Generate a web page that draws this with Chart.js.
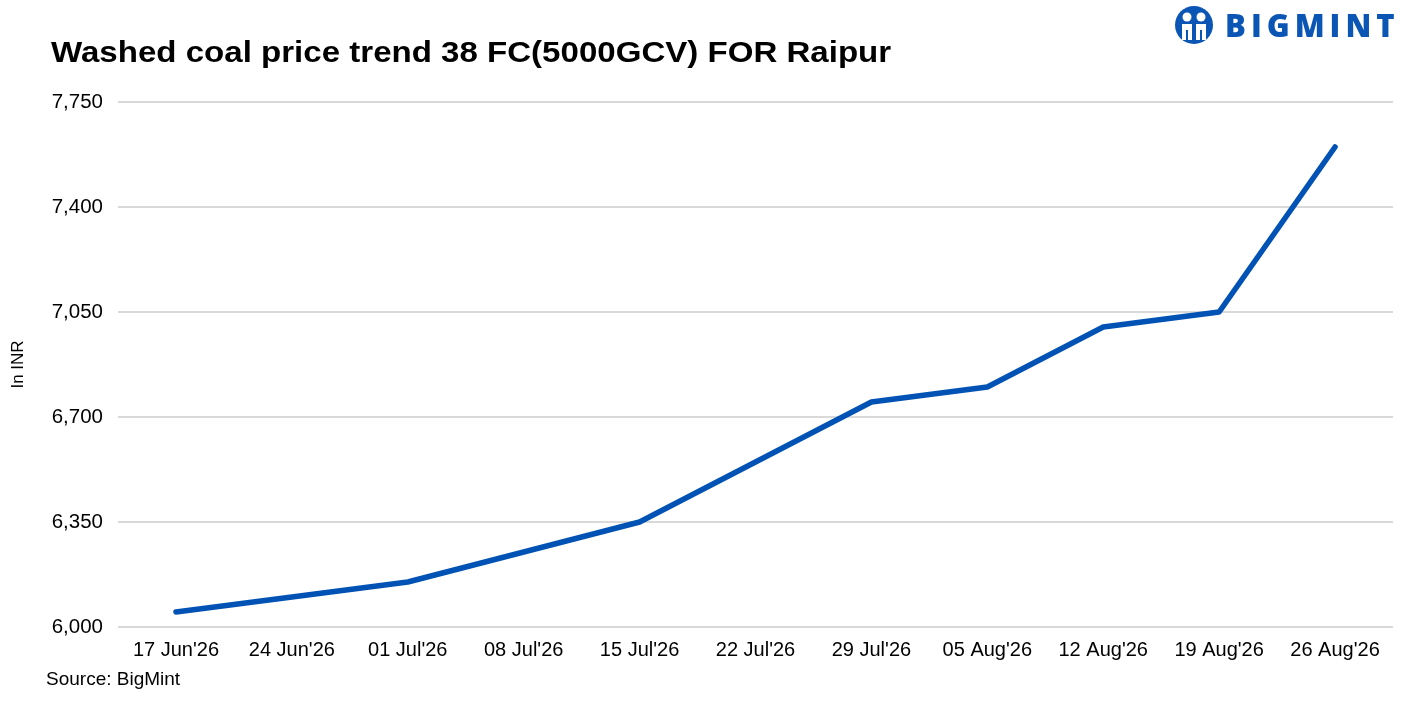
<!DOCTYPE html>
<html>
<head>
<meta charset="utf-8">
<script src="https://cdn.jsdelivr.net/npm/chart.js@4.4.1/dist/chart.umd.min.js"></script>
<style>
  html, body { margin: 0; padding: 0; background: #fff; }
  #wrap { position: relative; width: 1417px; height: 709px; overflow: hidden; }
  #chart { position: absolute; left: 0; top: 0; }
  #title { position: absolute; left: 51px; top: 36px; font: bold 29px "Liberation Sans", Arial, sans-serif; color: #000; transform: scaleX(1.14); transform-origin: left top; white-space: nowrap; }
  #source { position: absolute; left: 46px; top: 668px; font: 19px "Liberation Sans", Arial, sans-serif; color: #000; }
  #logo { position: absolute; left: 1173px; top: 4px; display: flex; align-items: center; }
  #logo span { font: 900 31px "Open Sans", "Liberation Sans", sans-serif; color: #0b56b5; letter-spacing: 5px; margin-left: 10px; }
</style>
</head>
<body>
<div id="wrap">
  <canvas id="chart" width="1417" height="709"></canvas>
  <div id="title">Washed coal price trend 38 FC(5000GCV) FOR Raipur</div>
  <div id="source">Source: BigMint</div>
  <div id="logo">
    <svg width="42" height="42" viewBox="0 0 42 42">
      <circle cx="21" cy="21" r="19" fill="#0b56b5"/>
      <circle cx="14" cy="13" r="4.5" fill="#fff"/>
      <circle cx="28" cy="13" r="4.5" fill="#fff"/>
      <path d="M9 20 h10 v16 h-4 v-10 h-2 v10 h-4z" fill="#fff"/>
      <path d="M23 20 h10 v16 h-4 v-10 h-2 v10 h-4z" fill="#fff"/>
    </svg>
    <span>BIGMINT</span>
  </div>
</div>
<script>
// dati del grafico
const weeks = ["17 Jun'26", "24 Jun'26", "01 Jul'26", "08 Jul'26", "15 Jul'26", "22 Jul'26",
               "29 Jul'26", "05 Aug'26", "12 Aug'26", "19 Aug'26", "26 Aug'26"];
const prices = [6050, 6100, 6150, 6250, 6350, 6550, 6750, 6800, 7000, 7050, 7600];
const yMin = 6000;
const yMax = 7750;
const yStep = 350;

const ctx = document.getElementById('chart').getContext('2d');
new Chart(ctx, {
    type: 'line',
    data: {
        labels: weeks,
        datasets: [{
            label: 'Price',
            data: prices,
            borderColor: '#0052b4',
            borderWidth: 5.5,
            pointRadius: 0,
            tension: 0,
            fill: false,
            borderCapStyle: 'round',
            borderJoinStyle: 'round'
        }]
    },
    options: {
        responsive: false,
        animation: false,
        layout: { padding: { top: 102, right: 24, left: 0, bottom: 0 } },
        plugins: { legend: { display: false }, tooltip: { enabled: false } },
        scales: {
            x: {
                offset: true,
                grid: { display: false, drawTicks: false },
                border: { display: false },
                ticks: {
                    color: '#000',
                    font: { family: 'Liberation Sans', size: 20 },
                    maxRotation: 0,
                    autoSkip: false,
                    padding: 11
                },
                afterFit: scale => { scale.height = 82; }
            },
            y: {
                min: yMin,
                max: yMax,
                grid: { color: '#d9d9d9', lineWidth: 2, drawTicks: false },
                border: { display: false },
                ticks: {
                    stepSize: yStep,
                    color: '#000',
                    font: { family: 'Liberation Sans', size: 20.5 },
                    padding: 15
                },
                title: {
                    display: true,
                    text: 'In INR',
                    color: '#000',
                    font: { family: 'Liberation Sans', size: 17 },
                    padding: { top: 8, bottom: 0 }
                },
                afterFit: scale => { scale.width = 118; }
            }
        }
    }
});
</script>
</body>
</html>
